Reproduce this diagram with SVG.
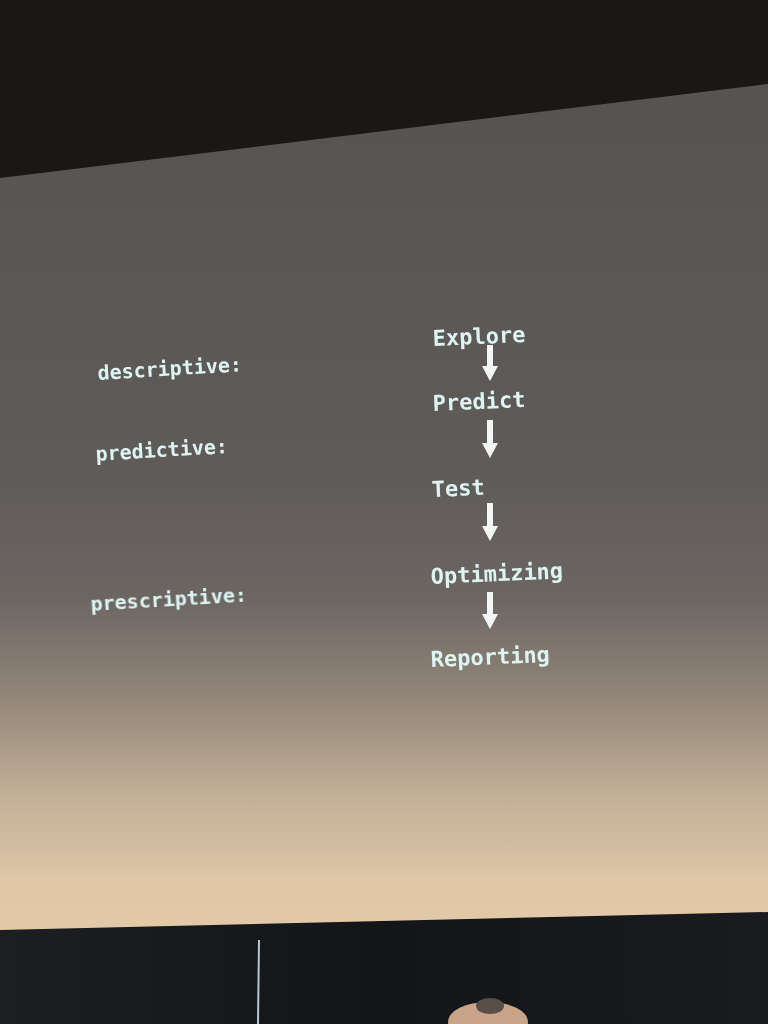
<svg xmlns="http://www.w3.org/2000/svg" width="768" height="1024" viewBox="0 0 768 1024">
  <defs>
    <linearGradient id="screenFill" gradientUnits="userSpaceOnUse" x1="0" y1="100" x2="0" y2="930">
      <stop offset="0" stop-color="#565453"/>
      <stop offset="0.45" stop-color="#5f5b59"/>
      <stop offset="0.6" stop-color="#6c6663"/>
      <stop offset="0.72" stop-color="#928679"/>
      <stop offset="0.84" stop-color="#c3b098"/>
      <stop offset="0.94" stop-color="#dec6a6"/>
      <stop offset="1" stop-color="#e2caa9"/>
    </linearGradient>
    <linearGradient id="stageFill" x1="0" y1="0" x2="1" y2="0">
      <stop offset="0" stop-color="#1c1e21"/>
      <stop offset="0.5" stop-color="#131518"/>
      <stop offset="1" stop-color="#1a1b1e"/>
    </linearGradient>
    <filter id="soft" x="-10%" y="-30%" width="120%" height="160%">
      <feGaussianBlur stdDeviation="0.7"/>
    </filter>
    <!-- arrowhead drawn along +x so orient="auto" turns it to point down the line -->
    <marker id="head" viewBox="0 0 15 16" refX="2" refY="8" markerWidth="15" markerHeight="16" markerUnits="userSpaceOnUse" orient="auto">
      <path d="M0 0 L15 8 L0 16 Z" fill="#f2f6f4"/>
    </marker>
    <style>
      .lbl { font-family: "DejaVu Sans Mono", "Liberation Mono", monospace; font-weight: bold; fill: #ddf5f2; }
      .side { font-size: 20px; }
      .step { font-size: 22px; }
      .arrow { stroke: #f2f6f4; stroke-width: 6; fill: none; }
    </style>
  </defs>

  <!-- room behind the screen -->
  <rect x="0" y="0" width="768" height="1024" fill="#1b1716"/>
  <!-- stage wall below the screen -->
  <polygon points="0,930 768,912 768,1024 0,1024" fill="url(#stageFill)"/>
  <line x1="259" y1="940" x2="258" y2="1024" stroke="#b8c8d0" stroke-width="2"/>
  <ellipse cx="488" cy="1022" rx="40" ry="20" fill="#c9a489"/>
  <ellipse cx="490" cy="1006" rx="14" ry="8" fill="#5a4e48"/>

  <!-- projection screen -->
  <polygon points="0,178 768,84 768,912 0,930" fill="url(#screenFill)"/>

  <g filter="url(#soft)">
    <!-- category labels -->
    <g id="descriptive"><text class="lbl side" x="98" y="380" transform="rotate(-3.5 98 380)">descriptive:</text></g>
    <g id="predictive"><text class="lbl side" x="96" y="461" transform="rotate(-3.5 96 461)">predictive:</text></g>
    <g id="prescriptive"><text class="lbl side" x="91" y="611" transform="rotate(-3.5 91 611)">prescriptive:</text></g>

    <!-- process steps -->
    <g id="explore"><text class="lbl step" x="433" y="346" transform="rotate(-2.5 433 346)">Explore</text></g>
    <g id="predict"><text class="lbl step" x="433" y="411" transform="rotate(-2.5 433 411)">Predict</text></g>
    <g id="test"><text class="lbl step" x="432" y="497" transform="rotate(-2.5 432 497)">Test</text></g>
    <g id="optimizing"><text class="lbl step" x="431" y="584" transform="rotate(-2.5 431 584)">Optimizing</text></g>
    <g id="reporting"><text class="lbl step" x="431" y="667" transform="rotate(-2.5 431 667)">Reporting</text></g>

    <!-- connectors -->
    <g id="connectors">
      <line class="arrow" x1="490" y1="345" x2="490" y2="368" marker-end="url(#head)"/>
      <line class="arrow" x1="490" y1="420" x2="490" y2="445" marker-end="url(#head)"/>
      <line class="arrow" x1="490" y1="503" x2="490" y2="528" marker-end="url(#head)"/>
      <line class="arrow" x1="490" y1="592" x2="490" y2="616" marker-end="url(#head)"/>
    </g>
  </g>
</svg>
